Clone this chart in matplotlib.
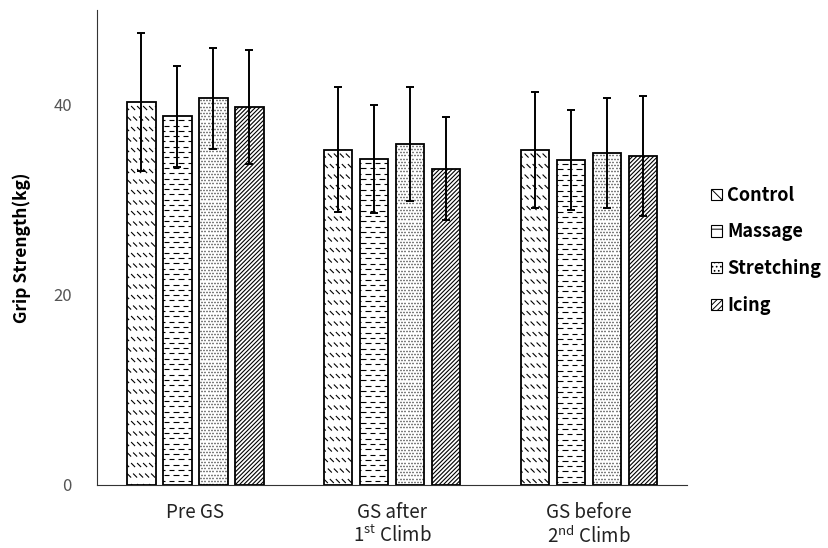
import numpy as np
import matplotlib
matplotlib.use("Agg")
import matplotlib.pyplot as plt
from matplotlib.collections import LineCollection
from matplotlib.patches import Patch
from matplotlib.transforms import IdentityTransform

plt.rcParams['font.family'] = ['Noto Sans CJK KR', 'DejaVu Sans']
plt.rcParams['hatch.linewidth'] = 0.7

# grip strength per measurement time (mean, sd)
times = ['Pre GS', 'GS after\n1$^{\\mathregular{st}}$ Climb', 'GS before\n2$^{\\mathregular{nd}}$ Climb']
groups = ['Control', 'Massage', 'Stretching', 'Icing']
means = {
    'Control':    [40.3, 35.3, 35.3],
    'Massage':    [38.8, 34.3, 34.2],
    'Stretching': [40.7, 35.9, 34.9],
    'Icing':      [39.8, 33.3, 34.6],
}
sds = {
    'Control':    [7.3, 6.6, 6.1],
    'Massage':    [5.3, 5.7, 5.3],
    'Stretching': [5.3, 6.0, 5.8],
    'Icing':      [6.0, 5.4, 6.3],
}
legend_hatch = ['\\\\\\', '--', '....', '//////']


def fill_pattern(ax, patch, kind):
    # pattern strokes in pixel space, clipped to the bar
    bb = patch.get_window_extent()
    x0, y0, x1, y1 = bb.x0, bb.y0, bb.x1, bb.y1
    segs = []
    if kind == 'diag_dash':
        for j, yy in enumerate(np.arange(y1 - 6, y0 - 8, -10.5)):
            off = 0 if j % 2 == 0 else 2
            for xx in np.arange(x0 - 2 + off, x1 + 4, 6.0):
                segs.append([(xx, yy + 2), (xx + 4, yy - 2)])
    elif kind == 'hdash':
        for j, yy in enumerate(np.arange(y1 - 4, y0 - 4, -5.3)):
            off = 0 if j % 2 == 0 else 4.5
            for xx in np.arange(x0 - 4 + off, x1 + 8, 9.5):
                segs.append([(xx, yy), (xx + 5.5, yy)])
    elif kind == 'dots':
        for j, yy in enumerate(np.arange(y1 - 2, y0 - 2, -3.2)):
            off = 0 if j % 2 == 0 else 1.6
            for xx in np.arange(x0 + 1 + off, x1, 3.2):
                segs.append([(xx - 0.5, yy), (xx + 0.5, yy)])
    elif kind == 'fslash':
        h = y1 - y0
        for xx in np.arange(x0 - h, x1 + 4, 4.2):
            segs.append([(xx, y0), (xx + h, y0 + h)])
    lw = 1.0 if kind == 'dots' else 0.8
    lc = LineCollection(segs, colors='black', linewidths=lw,
                        transform=IdentityTransform(), zorder=2.5)
    ax.add_collection(lc, autolim=False)
    lc.set_clip_path(patch)


fig = plt.figure(figsize=(8.29, 5.48), dpi=100)
ax = fig.add_axes([0.117, 0.115, 0.712, 0.867])

x = np.arange(len(times))
w = 0.145
step = 0.183
kinds = ['diag_dash', 'hdash', 'dots', 'fslash']
bar_sets = []
for i, g in enumerate(groups):
    pos = x + (i - 1.5) * step
    bars = ax.bar(pos, means[g], w, color='white', edgecolor='black', linewidth=1.3,
                  zorder=2)
    bar_sets.append(bars)
    ax.errorbar(pos, means[g], yerr=sds[g], fmt='none', ecolor='black',
                elinewidth=1.4, capsize=3, capthick=1.4, zorder=3)

ax.set_xlim(-0.5, 2.5)
ax.set_ylim(0, 50)
ax.set_yticks([0, 20, 40])
ax.set_xticks(x)
ax.set_xticklabels(times, fontsize=13.5, color='#222222', linespacing=1.15)
ax.tick_params(axis='x', length=0, pad=12)
ax.tick_params(axis='y', length=0, pad=18, labelsize=12, labelcolor='#555555')
for s in ['top', 'right']:
    ax.spines[s].set_visible(False)
ax.spines['left'].set_color('#333333')
ax.spines['bottom'].set_color('#333333')
ax.set_ylabel('Grip Strength(kg)', fontsize=12.5, fontweight='bold', labelpad=16)

fig.canvas.draw()
for bars, kind in zip(bar_sets, kinds):
    for p in bars.patches:
        fill_pattern(ax, p, kind)

handles = [Patch(facecolor='white', edgecolor='black', linewidth=0.8, hatch=h)
           for h in legend_hatch]
ax.legend(handles, groups, loc='center left', bbox_to_anchor=(1.04, 0.494), frameon=False,
          prop={'size': 13, 'weight': 'bold'}, handlelength=0.6, handleheight=0.6,
          handletextpad=0.3, labelspacing=0.98, borderaxespad=0, borderpad=0)

fig.savefig('out.png', dpi=100)
